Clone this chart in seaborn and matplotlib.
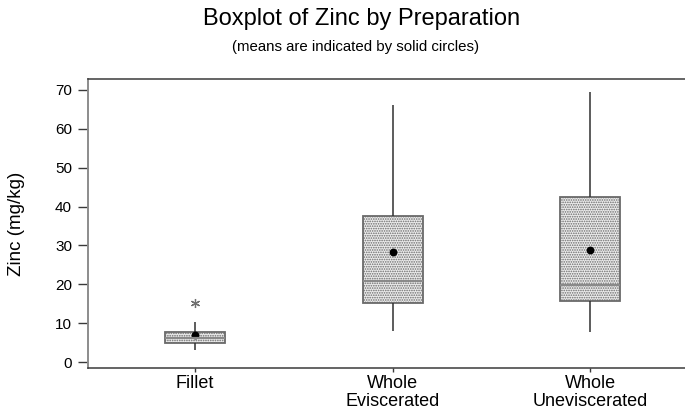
import numpy as np
import pandas as pd
import matplotlib
matplotlib.use("Agg")
import matplotlib.pyplot as plt
import seaborn as sns

# ---- data ----
categories = ["Fillet", "Whole\nEviscerated", "Whole\nUneviscerated"]
# observations chosen so the box statistics match the picture
fillet_values = [3.1, 5.0, 5.0, 6.2, 6.2, 7.8, 7.8, 10.3, 15.2]
eviscerated_values = [8.0, 15.3, 20.9, 37.6, 66.2]
uneviscerated_values = [7.6, 15.8, 19.7, 42.5, 69.4]
means = [6.9, 28.4, 28.8]
yticks = [0, 10, 20, 30, 40, 50, 60, 70]

title = "Boxplot of Zinc by Preparation"
subtitle = "(means are indicated by solid circles)"
ylabel = "Zinc (mg/kg)"

df = pd.DataFrame({
    "Preparation": [categories[0]] * len(fillet_values)
    + [categories[1]] * len(eviscerated_values)
    + [categories[2]] * len(uneviscerated_values),
    "Zinc": fillet_values + eviscerated_values + uneviscerated_values,
})
mean_df = pd.DataFrame({"Preparation": categories, "Zinc": means})

sns.set_style("white")
plt.rcParams["font.family"] = ["Liberation Sans", "DejaVu Sans"]
plt.rcParams["hatch.linewidth"] = 0.8
plt.rcParams["text.color"] = "black"
plt.rcParams["axes.labelcolor"] = "black"
plt.rcParams["xtick.color"] = "black"
plt.rcParams["ytick.color"] = "black"

fig = plt.figure(figsize=(6.85, 4.13), dpi=100)
ax = fig.add_axes([88 / 685, 45 / 413, 1 - 88 / 685, (368 - 79) / 413])

sns.boxplot(
    data=df, x="Preparation", y="Zinc", order=categories, ax=ax,
    width=0.304, showcaps=False, whis=1.5,
    boxprops=dict(facecolor="#ececec", edgecolor="#6a6a6a", linewidth=1.3, hatch="......."),
    medianprops=dict(color="#8a8a8a", linewidth=1.6),
    whiskerprops=dict(color="#303030", linewidth=1.1),
    flierprops=dict(marker=(6, 2, 0), markersize=6.5, markeredgecolor="#707070",
                    markerfacecolor="#707070", markeredgewidth=0.9),
)
sns.pointplot(
    data=mean_df, x="Preparation", y="Zinc", order=categories, ax=ax,
    linestyle="none", marker="o", markersize=3.6, color="black", errorbar=None,
)

ax.set_xlim(-0.542, 2.481)
ax.set_ylim(-1.54, 72.8)
ax.set_yticks(yticks)
ax.set_yticklabels([str(v) for v in yticks], fontsize=11)
ax.set_xticks(range(len(categories)))
ax.set_xticklabels(categories, fontsize=13, linespacing=1.05)
ax.set_xlabel("")
ax.set_ylabel(ylabel, fontsize=13.5)
ax.yaxis.set_label_coords(-0.106, 0.5)

ax.spines["right"].set_visible(False)
ax.spines["left"].set_color("#8c8c8c")
ax.spines["left"].set_linewidth(1.4)
ax.spines["bottom"].set_color("#3a3a3a")
ax.spines["bottom"].set_linewidth(1.1)
ax.spines["top"].set_color("#3a3a3a")
ax.spines["top"].set_linewidth(1.1)

ax.tick_params(axis="y", direction="out", length=7.5, width=1.0, color="#3a3a3a",
               left=True, pad=4)
ax.tick_params(axis="x", direction="out", length=3, width=1.0, color="#3a3a3a",
               bottom=True, pad=2)

fig.text(362 / 685, 1 - 19 / 413, title, ha="center", va="center", fontsize=17)
fig.text(356 / 685, 1 - 47 / 413, subtitle, ha="center", va="center", fontsize=10.8)

fig.savefig("out.png", dpi=100)
